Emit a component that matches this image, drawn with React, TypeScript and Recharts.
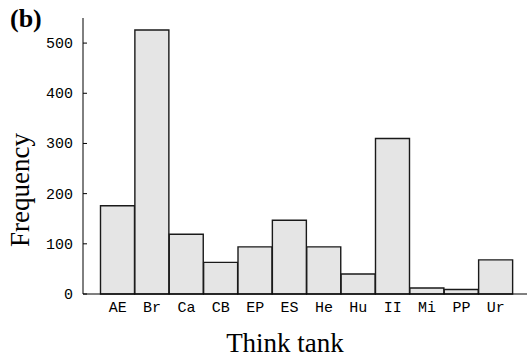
import React from 'react';
import { BarChart, Bar, XAxis, YAxis } from 'recharts';

const thinkTanks = ['AE', 'Br', 'Ca', 'CB', 'EP', 'ES', 'He', 'Hu', 'II', 'Mi', 'PP', 'Ur'];
const frequencies = [176, 526, 119, 63, 94, 147, 94, 40, 310, 12, 9, 68];
const yTicks = [0, 100, 200, 300, 400, 500];

const data = thinkTanks.map((name, i) => ({ name, freq: frequencies[i] }));

const mono = '"Liberation Mono", "DejaVu Sans Mono", monospace';
const serif = '"Liberation Serif", "DejaVu Serif", serif';

function YTick(props: any) {
  const { x, y, payload } = props;
  return (
    <g>
      <line x1={x} y1={y} x2={x + 4} y2={y} stroke="#000" strokeWidth={1} />
      <text x={x - 10} y={y} dy="0.33em" textAnchor="end" fontFamily={mono} fontSize={15} fill="#000">
        {payload.value}
      </text>
    </g>
  );
}

function XTick(props: any) {
  const { x, y, payload } = props;
  return (
    <text x={x} y={y + 18} textAnchor="middle" fontFamily={mono} fontSize={15} fill="#000">
      {payload.value}
    </text>
  );
}

export default function App() {
  return (
    <div style={{ position: 'absolute', left: 0, top: 0, width: 527, height: 358, background: '#fff' }}>
      <BarChart
        width={527}
        height={358}
        data={data}
        margin={{ top: 18, right: 0, bottom: 0, left: 0 }}
        barCategoryGap={0}
        barGap={0}
      >
        <XAxis
          dataKey="name"
          height={64}
          padding={{ left: 17.5, right: 14 }}
          tickLine={false}
          tickSize={0}
          tickMargin={0}
          axisLine={{ stroke: '#000', strokeWidth: 1 }}
          tick={<XTick />}
          interval={0}
          label={{
            content: () => (
              <text x={285} y={352} textAnchor="middle" fontFamily={serif} fontSize={27} fill="#000">
                Think tank
              </text>
            ),
          }}
        />
        <YAxis
          width={83}
          domain={[0, 550]}
          ticks={yTicks}
          tickLine={false}
          tickSize={0}
          tickMargin={0}
          axisLine={{ stroke: '#000', strokeWidth: 1 }}
          tick={<YTick />}
          label={{
            content: () => (
              <text
                x={29}
                y={190}
                transform="rotate(-90, 29, 190)"
                textAnchor="middle"
                fontFamily={serif}
                fontSize={27}
                fill="#000"
              >
                Frequency
              </text>
            ),
          }}
        />
        <Bar dataKey="freq" fill="#e5e5e5" stroke="#1a1a1a" strokeWidth={1.4} isAnimationActive={false} />
      </BarChart>
      <div
        style={{
          position: 'absolute',
          left: 10,
          top: 4,
          fontFamily: serif,
          fontWeight: 'bold',
          fontSize: 26,
          lineHeight: '30px',
          color: '#000',
        }}
      >
        (b)
      </div>
    </div>
  );
}
